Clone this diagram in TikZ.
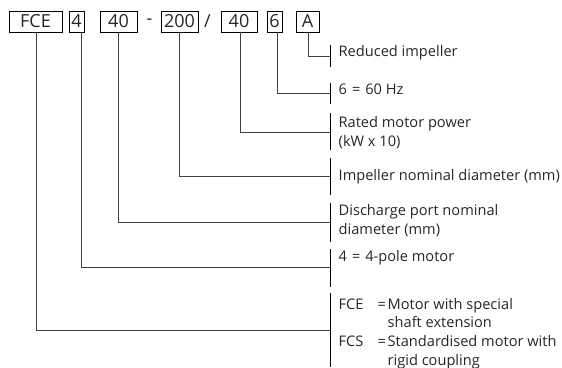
\documentclass[tikz,border=0pt]{standalone}
\usepackage{fontspec}
\setmainfont{Open Sans}
\begin{document}
\begin{tikzpicture}[x=1pt,y=-1pt,
  box/.style={draw=black, line width=0.8pt, minimum height=21pt, inner sep=0pt, font=\fontsize{18}{20}\selectfont, text=black!85},
  sep/.style={inner sep=0pt, font=\fontsize{18}{20}\selectfont, text=black!85},
  conn/.style={draw=black!75, line width=0.8pt},
  bar/.style={draw=black, line width=0.9pt},
  lbl/.style={anchor=base west, inner sep=0pt, font=\fontsize{14.6}{17}\selectfont, text=black!85}]
\useasboundingbox (0,0) rectangle (562,367);
% code boxes
\node[box, minimum width=53pt] (fce) at (35.5,21.5) {FCE};
\node[box, minimum width=15pt] (pole) at (76.5,21.5) {4};
\node[box, minimum width=37pt] (dis) at (118.5,21.5) {40};
\node[sep] (dash) at (149.5,21.5) {-};
\node[box, minimum width=37pt] (imp) at (179.5,21.5) {200};
\node[sep] (slash) at (207.5,21.5) {/};
\node[box, minimum width=36pt] (pow) at (239,21.5) {40};
\node[box, minimum width=15pt] (hz) at (274.5,21.5) {6};
\node[box, minimum width=23pt] (red) at (307.5,21.5) {A};
% bars
\coordinate (aT) at (330,45);  \coordinate (aB) at (330,67);  \coordinate (aJ) at (330,56);
\coordinate (hT) at (330,83);  \coordinate (hB) at (330,104); \coordinate (hJ) at (330,93);
\coordinate (pT) at (330,113); \coordinate (pB) at (330,150); \coordinate (pJ) at (330,132);
\coordinate (iT) at (330,158); \coordinate (iB) at (330,195); \coordinate (iJ) at (330,176.5);
\coordinate (dT) at (330,203); \coordinate (dB) at (330,242); \coordinate (dJ) at (330,222);
\coordinate (oT) at (330,249); \coordinate (oB) at (330,287); \coordinate (oJ) at (330,267.5);
\coordinate (fT) at (330,293); \coordinate (fB) at (330,367); \coordinate (fJ) at (330,330.5);
\foreach \b in {a,h,p,i,d,o,f} {\draw[bar] (\b T) -- (\b B);}
% connectors
\draw[conn] ([xshift=0.5pt]red.south) |- (aJ);
\draw[conn] ([xshift=3pt]hz.south) |- (hJ);
\draw[conn] ([xshift=1pt]pow.south) |- (pJ);
\draw[conn] (imp.south) |- (iJ);
\draw[conn] (dis.south) |- (dJ);
\draw[conn] ([xshift=4.5pt]pole.south) |- (oJ);
\draw[conn] ([xshift=0.5pt]fce.south) |- (fJ);
% labels
\node[lbl] (tA) at (338.5,56.7) {Reduced impeller};
\node[lbl] (tH) at (338.5,94.7) {6\hspace{5pt}=\hspace{5pt}60 Hz};
\node[lbl] (tP1) at (338.5,127.3) {Rated motor power};
\node[lbl] (tP2) at (338.5,146) {(kW x 10)};
\node[lbl] (tI) at (338.5,180.7) {Impeller nominal diameter (mm)};
\node[lbl] (tD1) at (338.5,215.7) {Discharge port nominal};
\node[lbl] (tD2) at (338.5,234) {diameter (mm)};
\node[lbl] (tO) at (338.5,261) {4\hspace{5pt}=\hspace{5pt}4-pole motor};
\node[lbl] (tF1) at (338.5,309) {FCE};
\node[lbl] (tF2) at (377.5,309) {=};
\node[lbl] (tF3) at (387.5,309) {Motor with special};
\node[lbl] (tF4) at (387.5,327.7) {shaft extension};
\node[lbl] (tS1) at (338.5,346) {FCS};
\node[lbl] (tS2) at (377.5,346) {=};
\node[lbl] (tS3) at (387.5,346) {Standardised motor with};
\node[lbl] (tS4) at (387.5,365) {rigid coupling};
\end{tikzpicture}
\end{document}
